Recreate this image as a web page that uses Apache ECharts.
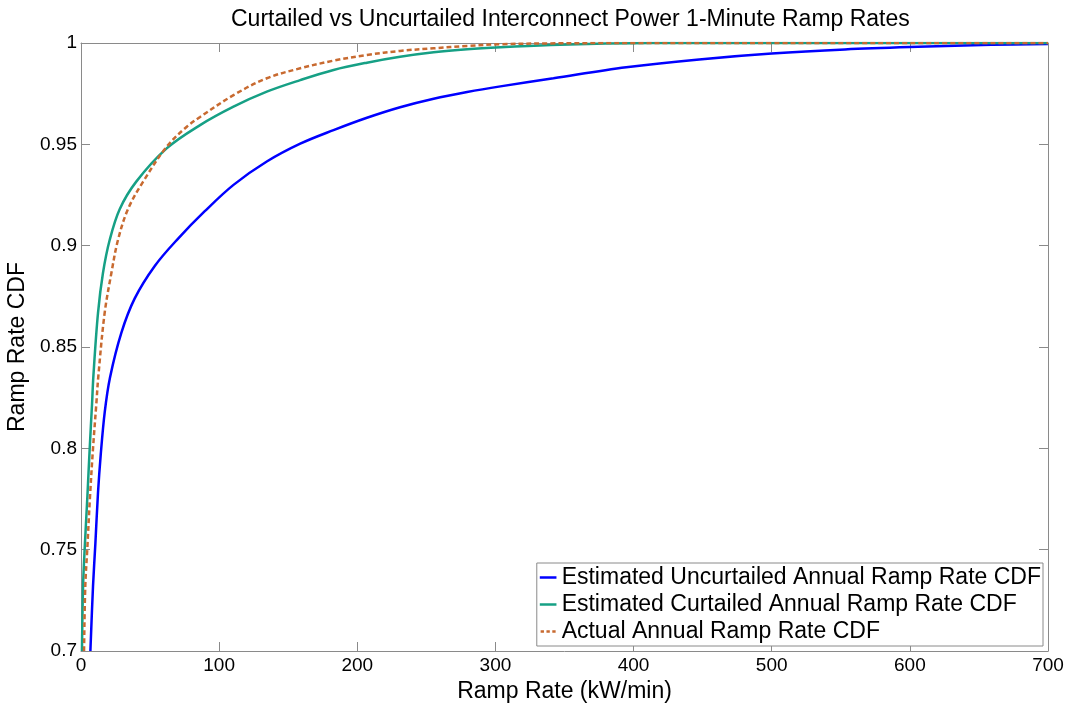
<!DOCTYPE html>
<html>
<head>
<meta charset="utf-8">
<script src="https://cdn.jsdelivr.net/npm/echarts@6/dist/echarts.min.js"></script>
<style>
html,body{margin:0;padding:0;background:#fff;}
#chart{width:1073px;height:703px;}
</style>
</head>
<body>
<div id="chart"></div>
<script>
var titleText = 'Curtailed vs Uncurtailed Interconnect Power 1-Minute Ramp Rates';
var xAxisName = 'Ramp Rate (kW/min)';
var yAxisName = 'Ramp Rate CDF';
var seriesNames = [
  'Estimated Uncurtailed Annual Ramp Rate CDF',
  'Estimated Curtailed Annual Ramp Rate CDF',
  'Actual Annual Ramp Rate CDF'
];

var uncurtX = [6.8, 8.7, 10.4, 12.3, 14.3, 17.2, 21, 29.2, 38.9, 53.4, 70.3, 89.6, 110.4, 134.5, 158.7, 182.8, 207, 231, 255.3, 279.5, 303.6, 342, 394.7, 447.5, 500, 553, 606, 659, 700];
var uncurtY = [0.700, 0.732, 0.753, 0.778, 0.797, 0.818, 0.835, 0.857, 0.874, 0.890, 0.9035, 0.917, 0.930, 0.9415, 0.9503, 0.957, 0.9631, 0.9683, 0.9725, 0.9758, 0.9786, 0.9826, 0.9880, 0.9919, 0.9948, 0.9968, 0.9981, 0.9991, 0.9995];

var curtX = [0.7, 1.5, 2.7, 4.6, 6.3, 8.0, 9.0, 12.3, 15.9, 20.8, 28, 40, 62, 86.2, 110.4, 134.5, 158.7, 182.8, 207, 231, 255.3, 279.5, 303.6, 340, 380, 413, 500, 600, 700];
var curtY = [0.700, 0.732, 0.751, 0.776, 0.800, 0.822, 0.836, 0.8667, 0.8865, 0.9029, 0.918, 0.9316, 0.948, 0.9595, 0.9686, 0.976, 0.9817, 0.9867, 0.9903, 0.9932, 0.9954, 0.9969, 0.9979, 0.9990, 0.9997, 1.0, 1.0, 1.0, 1.0];

var actualX = [2.2, 3.1, 4.6, 6.5, 8.7, 11.1, 12.6, 17.1, 22, 26.8, 34, 45, 62, 76.6, 86.2, 110.4, 134.5, 158.7, 182.8, 207, 231, 255.3, 279.5, 303.6, 340, 400, 500, 600, 700];
var actualY = [0.700, 0.732, 0.751, 0.776, 0.800, 0.822, 0.836, 0.8667, 0.8865, 0.9029, 0.918, 0.9316, 0.9488, 0.9587, 0.9635, 0.9743, 0.9826, 0.9875, 0.9913, 0.9941, 0.9961, 0.9974, 0.9985, 0.9994, 0.9998, 1.0, 1.0, 1.0, 1.0];

var xTicks = [0, 100, 200, 300, 400, 500, 600, 700];
var yTicks = [0.7, 0.75, 0.8, 0.85, 0.9, 0.95, 1];

function pairs(xs, ys) { return xs.map(function (x, i) { return [x, ys[i]]; }); }

var axisGray = '#8a8a8a';
var fontFam = '"Liberation Sans", Arial, sans-serif';
var colors = ['#0000ff', '#16a085', '#c86a30'];

var chart = echarts.init(document.getElementById('chart'), null, {renderer: 'canvas'});
var xBase = {
  type: 'value', min: xTicks[0], max: xTicks[xTicks.length - 1], interval: 100,
  axisLine: {show: true, onZero: false, lineStyle: {color: axisGray, width: 1}},
  axisTick: {show: true, inside: true, length: 9, lineStyle: {color: axisGray}},
  splitLine: {show: false}
};
var yBase = {
  type: 'value', min: yTicks[0], max: yTicks[yTicks.length - 1], interval: 0.05,
  axisLine: {show: true, onZero: false, lineStyle: {color: axisGray, width: 1}},
  axisTick: {show: true, inside: true, length: 9, lineStyle: {color: axisGray}},
  splitLine: {show: false}
};

var solidIcon = 'path://M0,0 L20,0 L20,3 L0,3 Z';
var dashIcon = 'path://M0,0 L4,0 L4,3 L0,3 Z M7,0 L11,0 L11,3 L7,3 Z M14,0 L18,0 L18,3 L14,3 Z';

chart.setOption({
  animation: false,
  backgroundColor: '#ffffff',
  textStyle: {fontFamily: fontFam},
  title: {
    text: titleText, left: 226, top: 3,
    textStyle: {fontSize: 23, fontWeight: 'normal', color: '#000', fontFamily: fontFam}
  },
  grid: {left: 81, right: 25, top: 43, bottom: 52, containLabel: false, outerBoundsMode: 'none'},
  xAxis: [
    Object.assign({}, xBase, {
      position: 'bottom',
      name: xAxisName, nameLocation: 'middle', nameGap: 22,
      nameTextStyle: {fontSize: 23, color: '#000', fontFamily: fontFam},
      axisLabel: {show: true, fontSize: 19, color: '#000', margin: 5, fontFamily: fontFam}
    }),
    Object.assign({}, xBase, {position: 'top', axisLabel: {show: false}})
  ],
  yAxis: [
    Object.assign({}, yBase, {
      position: 'left',
      name: yAxisName, nameLocation: 'middle', nameGap: 49,
      nameTextStyle: {fontSize: 23, color: '#000', fontFamily: fontFam},
      axisLabel: {show: true, fontSize: 19, color: '#000', margin: 4, fontFamily: fontFam}
    }),
    Object.assign({}, yBase, {position: 'right', axisLabel: {show: false}})
  ],
  legend: {
    orient: 'vertical', right: 30, top: 563,
    itemWidth: 17, itemHeight: 2.5, itemGap: 4,
    padding: [3, 2, 3, 3],
    backgroundColor: '#fff', borderColor: axisGray, borderWidth: 1,
    textStyle: {fontSize: 23, color: '#000', fontFamily: fontFam},
    data: [
      {name: seriesNames[0], icon: solidIcon},
      {name: seriesNames[1], icon: solidIcon},
      {name: seriesNames[2], icon: dashIcon}
    ]
  },
  series: [
    {
      name: seriesNames[0], type: 'line', data: pairs(uncurtX, uncurtY),
      symbol: 'none', smooth: 0.35, clip: true,
      lineStyle: {color: colors[0], width: 2.5}, itemStyle: {color: colors[0]}
    },
    {
      name: seriesNames[1], type: 'line', data: pairs(curtX, curtY),
      symbol: 'none', smooth: 0.35, clip: true,
      lineStyle: {color: colors[1], width: 2.5}, itemStyle: {color: colors[1]}
    },
    {
      name: seriesNames[2], type: 'line', data: pairs(actualX, actualY),
      symbol: 'none', smooth: 0.35, clip: true,
      lineStyle: {color: colors[2], width: 2.5, type: [5, 3]}, itemStyle: {color: colors[2]}
    }
  ]
});
</script>
</body>
</html>
